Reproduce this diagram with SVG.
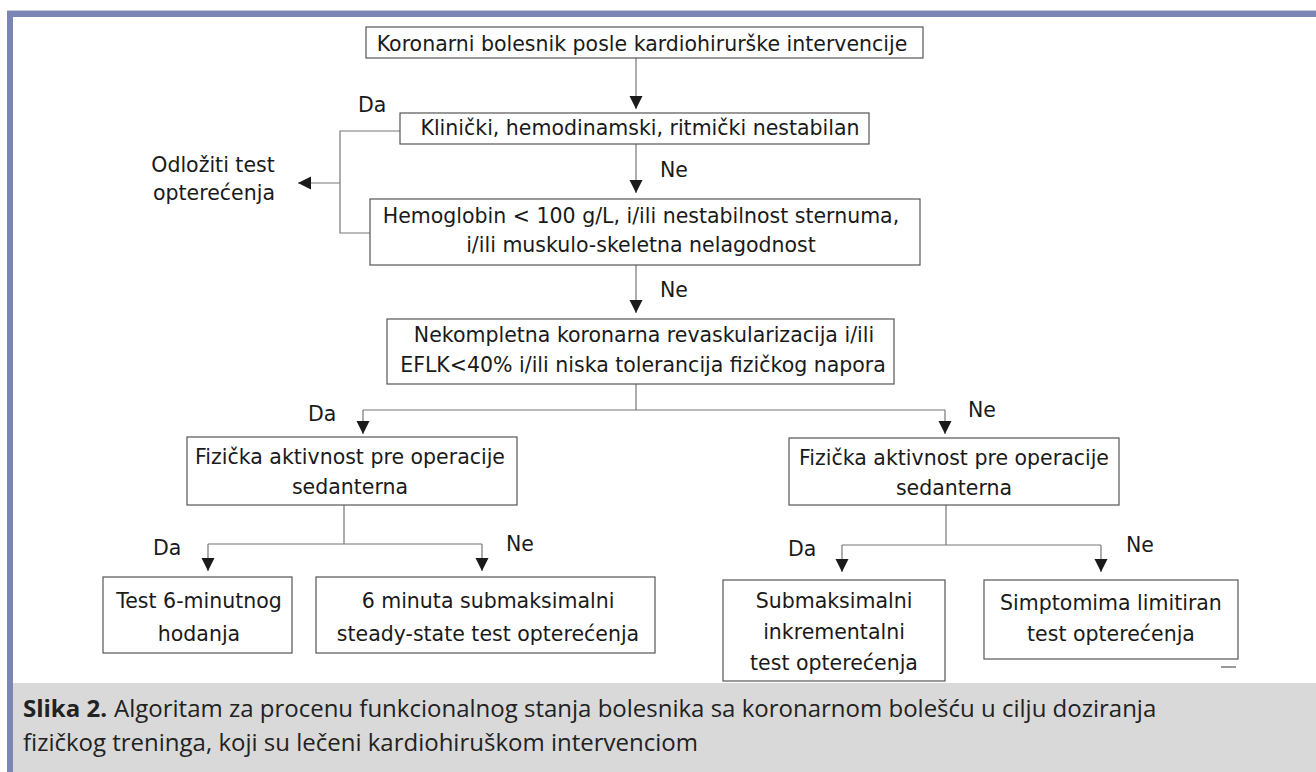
<svg xmlns="http://www.w3.org/2000/svg" width="1316" height="772" viewBox="0 0 1316 772">
  <defs>
    <style>
      .box { fill: #ffffff; stroke: #555555; stroke-width: 1.2; }
      .t { font-family: "DejaVu Sans", "Liberation Sans", sans-serif; font-size: 20.5px; fill: #1a1a1a; text-anchor: middle; }
      .lbl { font-family: "DejaVu Sans", "Liberation Sans", sans-serif; font-size: 20.5px; fill: #1a1a1a; }
      .con { fill: none; stroke: #777777; stroke-width: 1.2; }
      .cap { font-family: "Open Sans", "Noto Sans", sans-serif; font-size: 24px; fill: #222222; }
      .capb { font-family: "Open Sans", "Noto Sans", sans-serif; font-size: 24px; font-weight: bold; fill: #222222; }
    </style>
    <marker id="arr" markerUnits="userSpaceOnUse" markerWidth="14" markerHeight="14" refX="13" refY="6.5" orient="auto" viewBox="0 0 14 14">
      <path d="M0,0 L13,6.5 L0,13 z" fill="#1a1a1a"/>
    </marker>
  </defs>

  <!-- frame -->
  <rect x="7" y="10" width="1309" height="1" fill="#c3c8e0"/>
  <rect x="7" y="11" width="1309" height="6" fill="#7b86b6"/>
  <rect x="7" y="11" width="6" height="761" fill="#7b86b6"/>
  <rect x="13" y="683" width="1303" height="89" fill="#d9d9d9"/>

  <!-- connectors -->
  <g id="connectors">
    <path class="con" d="M636,58 V109" marker-end="url(#arr)"/>
    <path class="con" d="M636,144 V193" marker-end="url(#arr)"/>
    <path class="con" d="M636,265 V313" marker-end="url(#arr)"/>
    <path class="con" d="M400,131 H340 V233 H370"/>
    <path class="con" d="M340,183 H298" marker-end="url(#arr)"/>
    <path class="con" d="M636,384 V410 M363,410 H945"/>
    <path class="con" d="M363,410 V434" marker-end="url(#arr)"/>
    <path class="con" d="M945,410 V434" marker-end="url(#arr)"/>
    <path class="con" d="M344,505 V544 M208,544 H482"/>
    <path class="con" d="M208,544 V571" marker-end="url(#arr)"/>
    <path class="con" d="M482,544 V571" marker-end="url(#arr)"/>
    <path class="con" d="M946,505 V545 M842,545 H1101"/>
    <path class="con" d="M842,545 V572" marker-end="url(#arr)"/>
    <path class="con" d="M1101,545 V572" marker-end="url(#arr)"/>
  </g>

  <!-- labels -->
  <g id="labels">
    <text class="lbl" x="358" y="112">Da</text>
    <text class="lbl" x="660" y="177">Ne</text>
    <text class="lbl" x="660" y="297">Ne</text>
    <text class="lbl" x="308" y="421">Da</text>
    <text class="lbl" x="968" y="417">Ne</text>
    <text class="lbl" x="153" y="555">Da</text>
    <text class="lbl" x="506" y="551">Ne</text>
    <text class="lbl" x="788" y="556">Da</text>
    <text class="lbl" x="1126" y="552">Ne</text>
  </g>

  <g id="n1">
    <rect class="box" x="366" y="27" width="557" height="31"/>
    <text class="t" x="642" y="51">Koronarni bolesnik posle kardiohirurške intervencije</text>
  </g>
  <g id="n2">
    <rect class="box" x="400" y="113" width="469" height="31"/>
    <text class="t" x="640" y="135">Klinički, hemodinamski, ritmički nestabilan</text>
  </g>
  <g id="n_defer">
    <text class="t" x="213" y="172">Odložiti test</text>
    <text class="t" x="214" y="200">opterećenja</text>
  </g>
  <g id="n3">
    <rect class="box" x="370" y="199" width="550" height="66"/>
    <text class="t" x="641" y="223">Hemoglobin &lt; 100 g/L, i/ili nestabilnost sternuma,</text>
    <text class="t" x="641" y="252">i/ili muskulo-skeletna nelagodnost</text>
  </g>
  <g id="n4">
    <rect class="box" x="387" y="319" width="507" height="65"/>
    <text class="t" x="644" y="342">Nekompletna koronarna revaskularizacija i/ili</text>
    <text class="t" x="643" y="372">EFLK&lt;40% i/ili niska tolerancija fizičkog napora</text>
  </g>
  <g id="n5">
    <rect class="box" x="187" y="437" width="330" height="68"/>
    <text class="t" x="350" y="464">Fizička aktivnost pre operacije</text>
    <text class="t" x="350" y="494">sedanterna</text>
  </g>
  <g id="n6">
    <rect class="box" x="789" y="438" width="330" height="67"/>
    <text class="t" x="954" y="465">Fizička aktivnost pre operacije</text>
    <text class="t" x="954" y="495">sedanterna</text>
  </g>
  <g id="n7">
    <rect class="box" x="103" y="577" width="189" height="76"/>
    <text class="t" x="199" y="608">Test 6-minutnog</text>
    <text class="t" x="199" y="641">hodanja</text>
  </g>
  <g id="n8">
    <rect class="box" x="316" y="577" width="339" height="76"/>
    <text class="t" x="488" y="608">6 minuta submaksimalni</text>
    <text class="t" x="488" y="641">steady-state test opterećenja</text>
  </g>
  <g id="n9">
    <rect class="box" x="723" y="580" width="222" height="101"/>
    <text class="t" x="834" y="608">Submaksimalni</text>
    <text class="t" x="834" y="639">inkrementalni</text>
    <text class="t" x="834" y="670">test opterećenja</text>
  </g>
  <g id="n10">
    <rect class="box" x="984" y="580" width="254" height="79"/>
    <text class="t" x="1111" y="610">Simptomima limitiran</text>
    <text class="t" x="1111" y="641">test opterećenja</text>
  </g>

  <line x1="1221" y1="667" x2="1236" y2="667" stroke="#555555" stroke-width="1.2"/>

  <g id="caption">
    <text class="capb" x="23" y="717">Slika 2.</text>
    <text class="cap" x="114" y="717">Algoritam za procenu funkcionalnog stanja bolesnika sa koronarnom bolešću u cilju doziranja</text>
    <text class="cap" x="23" y="751">fizičkog treninga, koji su lečeni kardiohiruškom intervenciom</text>
  </g>
</svg>
